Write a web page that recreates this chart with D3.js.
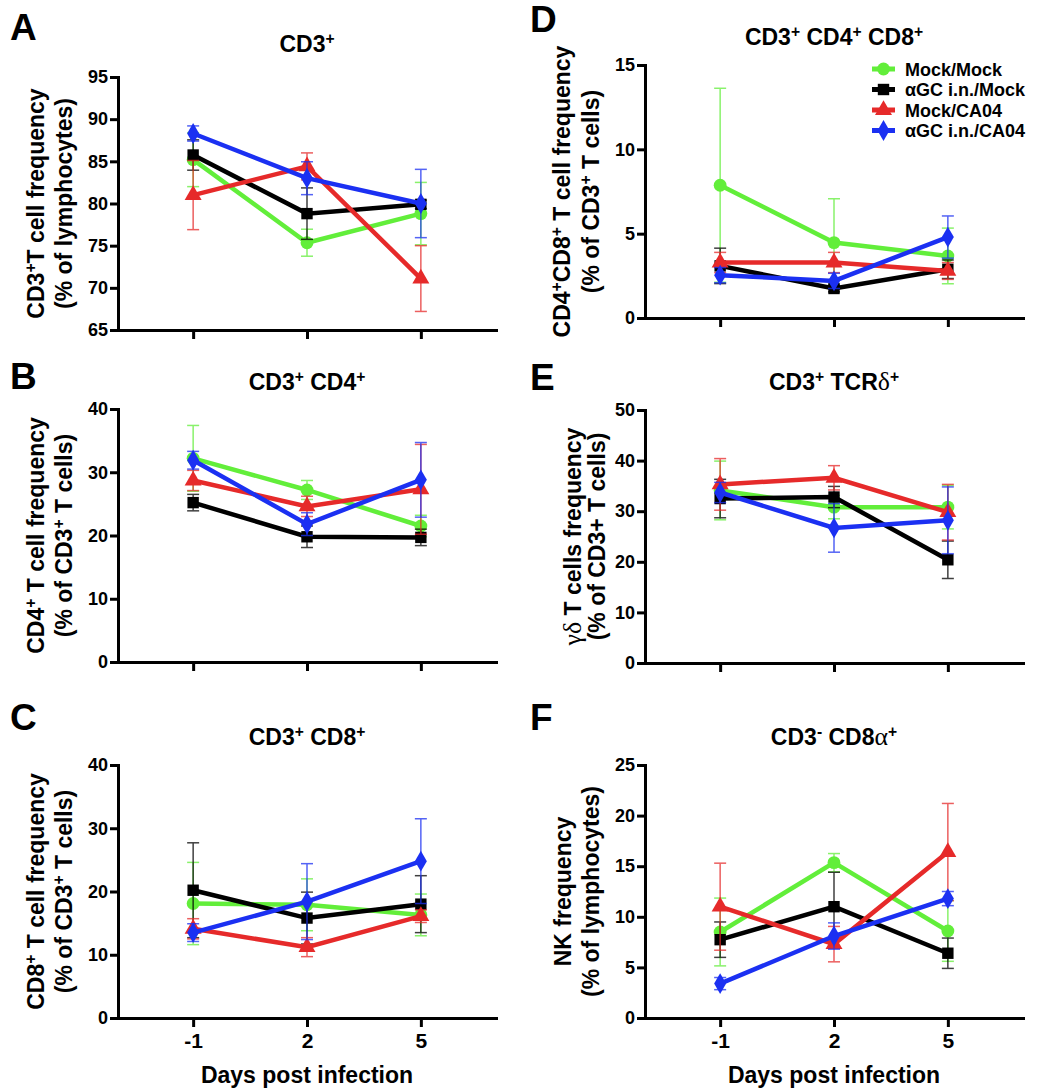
<!DOCTYPE html>
<html>
<head>
<meta charset="utf-8">
<script src="https://cdn.jsdelivr.net/npm/d3@7"></script>
<style>
  body { margin: 0; background: #fff; }
  text { font-family: "Liberation Sans", Arial, sans-serif; font-weight: bold; fill: #000; }
</style>
</head>
<body>
<script>
// days on the x axis and the four groups
var days = ["-1", "2", "5"];
var groups = ["Mock/Mock", "αGC i.n./Mock", "Mock/CA04", "αGC i.n./CA04"];

// A: CD3+ (% of lymphocytes), rows = groups, cols = days
var cd3Mean = [[85.2, 75.35, 78.8], [85.75, 78.8, 79.9], [81.0, 84.4, 71.1], [88.3, 83.0, 80.0]];
var cd3Sd   = [[3.2, 1.6, 3.7], [1.8, 3.05, 0.5], [4.1, 1.6, 3.9], [0.9, 1.95, 4.05]];
var cd3Ticks = [65, 70, 75, 80, 85, 90, 95];

// B: CD3+ CD4+
var cd4Mean = [[32.2, 27.2, 21.5], [25.2, 19.8, 19.7], [28.7, 24.6, 27.3], [31.9, 21.8, 28.8]];
var cd4Sd   = [[5.2, 1.5, 1.7], [1.3, 1.7, 1.3], [1.6, 1.6, 7.1], [1.4, 1.8, 5.9]];
var cd4Ticks = [0, 10, 20, 30, 40];

// C: CD3+ CD8+
var cd8Mean = [[18.1, 17.9, 16.3], [20.2, 15.8, 18.0], [14.1, 11.2, 16.1], [13.5, 18.4, 24.8]];
var cd8Sd   = [[6.5, 4.1, 3.3], [7.5, 4.1, 4.5], [1.6, 1.5, 1.0], [1.4, 6.0, 6.7]];
var cd8Ticks = [0, 10, 20, 30, 40];

// D: CD3+ CD4+ CD8+
var dpMean = [[7.87, 4.47, 3.68], [3.09, 1.75, 2.89], [3.29, 3.29, 2.79], [2.54, 2.2, 4.8]];
var dpSd   = [[5.75, 2.6, 1.65], [1.05, 0.2, 0.55], [0.6, 0.6, 0.5], [0.45, 0.45, 1.25]];
var dpTicks = [0, 5, 10, 15];

// E: CD3+ TCRd+
var gdMean = [[34.1, 30.8, 30.8], [32.5, 32.8, 20.4], [35.3, 36.6, 29.8], [33.7, 26.7, 28.2]];
var gdSd   = [[5.8, 2.3, 4.3], [3.8, 2.1, 3.7], [5.1, 2.4, 5.5], [2.0, 4.8, 6.6]];
var gdTicks = [0, 10, 20, 30, 40, 50];

// F: CD3- CD8a+ (NK)
var nkMean = [[8.5, 15.35, 8.6], [7.74, 11.0, 6.4], [11.0, 7.3, 16.4], [3.4, 8.1, 11.8]];
var nkSd   = [[3.35, 0.9, 3.0], [1.75, 3.4, 1.5], [4.3, 1.75, 4.8], [0.6, 1.3, 0.7]];
var nkTicks = [0, 5, 10, 15, 20, 25];

var colors = ["#62ee3a", "#000000", "#e62a2a", "#1b30f2"];
var shapes = [d3.symbolCircle, d3.symbolSquare, d3.symbolTriangle, d3.symbolDiamond];
var shapeSize = [130, 130, 125, 125];

// "^" = superscript next char, "~" = greek next char (thin serif)
var panels = [
  {id: "A", title: "CD3^+", ylab: ["CD3^+T cell frequency", "(% of lymphocytes)"], lab: [82, 54], ty: -25,
   mean: cd3Mean, sd: cd3Sd, ticks: cd3Ticks, left: 118, top: 77, bottom: false},
  {id: "B", title: "CD3^+ CD4^+", ylab: ["CD4^+ T cell frequency", "(% of CD3^+  T cells)"], lab: [82, 54], ty: -19,
   mean: cd4Mean, sd: cd4Sd, ticks: cd4Ticks, left: 118, top: 409, bottom: false},
  {id: "C", title: "CD3^+ CD8^+", ylab: ["CD8^+ T cell frequency", "(% of CD3^+  T cells)"], lab: [82, 54], ty: -20,
   mean: cd8Mean, sd: cd8Sd, ticks: cd8Ticks, left: 118, top: 765, bottom: true},
  {id: "D", title: "CD3^+ CD4^+ CD8^+", ylab: ["CD4^+CD8^+ T cell frequency", "(% of CD3^+  T cells)"], lab: [83, 54], ty: -20,
   mean: dpMean, sd: dpSd, ticks: dpTicks, left: 645, top: 65, bottom: false},
  {id: "E", title: "CD3^+ TCR~δ^+", ylab: ["~γ~δ T cells frequency", "(% of CD3+ T cells)"], lab: [72, 48], ty: -20,
   mean: gdMean, sd: gdSd, ticks: gdTicks, left: 645, top: 410, bottom: false},
  {id: "F", title: "CD3^- CD8~α^+", ylab: ["NK frequency", "(% of lymphocytes)"], lab: [82, 54], ty: -20,
   mean: nkMean, sd: nkSd, ticks: nkTicks, left: 645, top: 765, bottom: true}
];

var plotW = 378, plotH = 253;

var svg = d3.select("body").append("svg")
    .attr("width", 1044)
    .attr("height", 1089);

// write a label with ^ and ~ markup into a text element
function richText(sel, str) {
  var i = 0;
  while (i < str.length) {
    var c = str[i];
    if (c === "^") {
      sel.append("tspan").attr("baseline-shift", "super").style("font-size", "68%").text(str[i + 1]);
      i += 2;
    } else if (c === "~") {
      sel.append("tspan").style("font-family", "'Liberation Serif', serif").style("font-weight", "normal")
          .style("font-size", "112%").text(str[i + 1]);
      i += 2;
    } else {
      var j = i;
      while (j < str.length && str[j] !== "^" && str[j] !== "~") j++;
      sel.append("tspan").text(str.slice(i, j));
      i = j;
    }
  }
}

panels.forEach(function(p) {
  var g = svg.append("g").attr("transform", "translate(" + p.left + "," + p.top + ")");

  var x = d3.scaleLinear().domain([-0.66, 2.66]).range([0, plotW]);
  var y = d3.scaleLinear().domain([p.ticks[0], p.ticks[p.ticks.length - 1]]).range([plotH, 0]);

  // y axis
  var ya = g.append("g")
      .call(d3.axisLeft(y).tickValues(p.ticks).tickSize(8).tickSizeOuter(0).tickPadding(2));
  ya.selectAll("text").style("font-size", "18px").style("font-family", "'Liberation Sans', Arial, sans-serif").style("font-weight", "bold");

  // x axis
  var xa = g.append("g").attr("transform", "translate(0," + plotH + ")")
      .call(d3.axisBottom(x).tickValues([0, 1, 2]).tickSize(9).tickSizeOuter(0).tickPadding(6)
        .tickFormat(function(d) { return p.bottom ? days[d] : ""; }));
  xa.selectAll("text").style("font-size", "21px").style("font-family", "'Liberation Sans', Arial, sans-serif").style("font-weight", "bold");

  g.selectAll(".domain").attr("stroke", "#000").attr("stroke-width", 3).attr("stroke-linecap", "square");
  g.selectAll(".tick line").attr("stroke", "#000").attr("stroke-width", 3);

  // panel title, centred on the middle day
  var t = g.append("text").attr("x", x(1)).attr("y", p.ty)
      .attr("text-anchor", "middle").style("font-size", "23px");
  richText(t, p.title);

  // y axis title, two lines
  p.ylab.forEach(function(s, k) {
    var bx = -p.lab[k] + 8;
    var yt = g.append("text")
        .attr("transform", "translate(" + bx + "," + (plotH / 2) + ") rotate(-90)")
        .attr("text-anchor", "middle").style("font-size", "23px");
    richText(yt, s);
  });

  // x axis title
  if (p.bottom) {
    g.append("text").attr("x", x(1)).attr("y", plotH + 65).attr("text-anchor", "middle")
        .style("font-size", "23px").text("Days post infection");
  }

  var line = d3.line().x(function(d, i) { return x(i); }).y(function(d) { return y(d); });

  groups.forEach(function(name, s) {
    var m = p.mean[s], sd = p.sd[s];
    var sg = g.append("g");
    // error bars
    m.forEach(function(v, i) {
      var eb = sg.append("g").attr("stroke", colors[s]).attr("stroke-width", 1.5).attr("opacity", 0.75);
      eb.append("line").attr("x1", x(i)).attr("x2", x(i)).attr("y1", y(v - sd[i])).attr("y2", y(v + sd[i]));
      eb.append("line").attr("x1", x(i) - 6).attr("x2", x(i) + 6).attr("y1", y(v - sd[i])).attr("y2", y(v - sd[i]));
      eb.append("line").attr("x1", x(i) - 6).attr("x2", x(i) + 6).attr("y1", y(v + sd[i])).attr("y2", y(v + sd[i]));
    });
    sg.append("path").datum(m).attr("d", line)
        .attr("fill", "none").attr("stroke", colors[s]).attr("stroke-width", 4.5);
    sg.selectAll(".pt").data(m).enter().append("path")
        .attr("transform", function(d, i) { return "translate(" + x(i) + "," + y(d) + ")"; })
        .attr("d", d3.symbol().type(shapes[s]).size(shapeSize[s]))
        .attr("fill", colors[s]);
  });
});

// panel letters
var letters = [["A", 10, 40], ["B", 10, 389], ["C", 10, 730], ["D", 530, 32], ["E", 530, 390], ["F", 530, 730]];
svg.selectAll(".letter").data(letters).enter().append("text")
    .attr("x", function(d) { return d[1]; }).attr("y", function(d) { return d[2]; })
    .style("font-size", "37px").text(function(d) { return d[0]; });

// legend inside panel D
var rowH = 20.5;
var lg = svg.append("g").attr("transform", "translate(872,69)");
groups.forEach(function(name, s) {
  var row = lg.append("g").attr("transform", "translate(0," + (s * rowH) + ")");
  row.append("line").attr("x1", 0).attr("x2", 23).attr("stroke", colors[s]).attr("stroke-width", 5);
  row.append("path").attr("transform", "translate(11.5,0)")
      .attr("d", d3.symbol().type(shapes[s]).size(shapeSize[s])).attr("fill", colors[s]);
  row.append("text").attr("x", 33).attr("y", 6.5).style("font-size", "18px").text(name);
});
</script>
</body>
</html>
